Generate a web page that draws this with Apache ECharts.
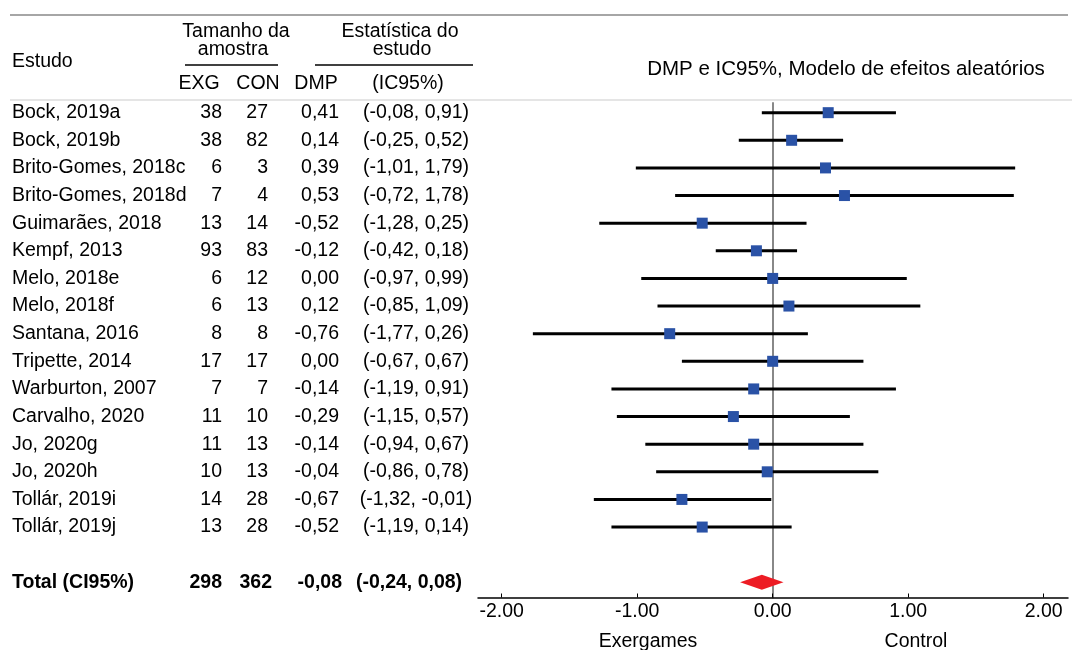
<!DOCTYPE html>
<html>

<head>
    <meta charset="utf-8" />
    <script src="https://cdn.jsdelivr.net/npm/echarts@6/dist/echarts.min.js"></script>
    <style>
        body { margin: 0; background: #fff; }
    </style>
</head>

<body>
    <div id="main" style="width: 1072px;height:650px;"></div>
    <script type="text/javascript">
        // dados do forest plot
        const studies = ['Bock, 2019a', 'Bock, 2019b', 'Brito-Gomes, 2018c', 'Brito-Gomes, 2018d', 'Guimarães, 2018',
            'Kempf, 2013', 'Melo, 2018e', 'Melo, 2018f', 'Santana, 2016', 'Tripette, 2014', 'Warburton, 2007',
            'Carvalho, 2020', 'Jo, 2020g', 'Jo, 2020h', 'Tollár, 2019i', 'Tollár, 2019j'];
        const exg = [38, 38, 6, 7, 13, 93, 6, 6, 8, 17, 7, 11, 11, 10, 14, 13];
        const con = [27, 82, 3, 4, 14, 83, 12, 13, 8, 17, 7, 10, 13, 13, 28, 28];
        const dmp = [0.41, 0.14, 0.39, 0.53, -0.52, -0.12, 0.00, 0.12, -0.76, 0.00, -0.14, -0.29, -0.14, -0.04, -0.67, -0.52];
        const lower = [-0.08, -0.25, -1.01, -0.72, -1.28, -0.42, -0.97, -0.85, -1.77, -0.67, -1.19, -1.15, -0.94, -0.86, -1.32, -1.19];
        const upper = [0.91, 0.52, 1.79, 1.78, 0.25, 0.18, 0.99, 1.09, 0.26, 0.67, 0.91, 0.57, 0.67, 0.78, -0.01, 0.14];

        const totalLabel = 'Total (CI95%)';
        const totalExg = 298;
        const totalCon = 362;
        const totalDmp = -0.08;
        const totalLower = -0.24;
        const totalUpper = 0.08;

        const xTicks = [-2, -1, 0, 1, 2];

        const totalRow = studies.length + 1; // linha em branco antes do total
        const FONT = '"Liberation Sans", Arial, Helvetica, sans-serif';
        const FS = 19.5;

        const fmt = v => v.toFixed(2).replace('.', ',');

        function txt(text, x, y, align, bold, size) {
            return {
                type: 'text',
                x: x,
                y: y,
                style: {
                    text: text,
                    fill: '#000',
                    font: (bold ? 'bold ' : '') + (size || FS) + 'px ' + FONT,
                    align: align,
                    textAlign: align,
                    verticalAlign: 'middle',
                    textVerticalAlign: 'middle'
                }
            };
        }

        function hline(x1, x2, y, color, w) {
            return {
                type: 'line',
                shape: { x1: x1, y1: y, x2: x2, y2: y },
                style: { stroke: color, lineWidth: w }
            };
        }

        const myChart = echarts.init(document.getElementById('main'), null, {
            renderer: 'canvas'
        });

        const option = {
            animation: false,
            backgroundColor: '#fff',
            grid: {
                left: 478,
                right: 4,
                top: 103,
                bottom: 52.5,
                containLabel: false,
                outerBoundsMode: 'none'
            },
            xAxis: {
                type: 'value',
                min: -2.175,
                max: 2.18,
                axisLine: { onZero: false, lineStyle: { color: '#000', width: 1.5 } },
                axisTick: { customValues: xTicks, inside: true, length: 4, lineStyle: { color: '#000', width: 1 } },
                axisLabel: {
                    customValues: xTicks,
                    formatter: v => v.toFixed(2),
                    color: '#000',
                    fontSize: FS,
                    fontFamily: FONT,
                    margin: 4
                },
                splitLine: { show: false }
            },
            yAxis: {
                type: 'value',
                inverse: true,
                min: -0.35,
                max: 17.55,
                axisLine: { show: true, onZero: true, lineStyle: { color: '#888', width: 2 } },
                axisTick: { show: false },
                axisLabel: { show: false },
                splitLine: { show: false }
            },
            graphic: [
                hline(10, 1068, 15, '#888', 1.5),
                hline(10, 1072, 100, '#ddd', 1.5),
                txt('Estudo', 12, 62, 'left'),
                txt('Tamanho da', 236, 32, 'center'),
                txt('amostra', 233, 50, 'center'),
                hline(185, 278, 65, '#000', 1.5),
                txt('Estatística do', 400, 32, 'center'),
                txt('estudo', 402, 50, 'center'),
                hline(315, 473, 65, '#000', 1.5),
                txt('EXG', 199, 84, 'center'),
                txt('CON', 258, 84, 'center'),
                txt('DMP', 316, 84, 'center'),
                txt('(IC95%)', 408, 84, 'center'),
                txt('DMP e IC95%, Modelo de efeitos aleatórios', 846, 69, 'center', false, 20.5),
                txt('Exergames', 648, 642, 'center'),
                txt('Control', 916, 642, 'center')
            ],
            series: [
                {
                    // tabela à esquerda
                    type: 'custom',
                    data: studies.map((s, i) => [0, i]),
                    encode: { x: 0, y: 1 },
                    renderItem: function (params, api) {
                        const i = params.dataIndex;
                        const y = api.coord([0, api.value(1)])[1];
                        return {
                            type: 'group',
                            children: [
                                txt(studies[i], 12, y, 'left'),
                                txt(String(exg[i]), 222, y, 'right'),
                                txt(String(con[i]), 268, y, 'right'),
                                txt(fmt(dmp[i]), 339, y, 'right'),
                                txt('(' + fmt(lower[i]) + ', ' + fmt(upper[i]) + ')', 416, y, 'center')
                            ]
                        };
                    }
                },
                {
                    // linha do total
                    type: 'custom',
                    data: [[0, totalRow]],
                    encode: { x: 0, y: 1 },
                    renderItem: function (params, api) {
                        const y = api.coord([0, api.value(1)])[1];
                        return {
                            type: 'group',
                            children: [
                                txt(totalLabel, 12, y, 'left', true),
                                txt(String(totalExg), 222, y, 'right', true),
                                txt(String(totalCon), 272, y, 'right', true),
                                txt(fmt(totalDmp), 342, y, 'right', true),
                                txt('(' + fmt(totalLower) + ', ' + fmt(totalUpper) + ')', 409, y, 'center', true)
                            ]
                        };
                    }
                },
                {
                    // IC e DMP de cada estudo
                    type: 'custom',
                    data: studies.map((s, i) => [lower[i], upper[i], dmp[i], i]),
                    encode: { x: [0, 1, 2], y: 3 },
                    renderItem: function (params, api) {
                        const y = api.coord([0, api.value(3)])[1];
                        const x1 = api.coord([api.value(0), 0])[0];
                        const x2 = api.coord([api.value(1), 0])[0];
                        const xm = api.coord([api.value(2), 0])[0];
                        return {
                            type: 'group',
                            children: [
                                { type: 'line', shape: { x1: x1, y1: y, x2: x2, y2: y }, style: { stroke: '#000', lineWidth: 3 } },
                                { type: 'rect', shape: { x: xm - 5.5, y: y - 5.5, width: 11, height: 11 }, style: { fill: '#2a52a6' } }
                            ]
                        };
                    }
                },
                {
                    // diamante do total
                    type: 'custom',
                    data: [[totalLower, totalUpper, totalDmp, totalRow]],
                    encode: { x: [0, 1, 2], y: 3 },
                    renderItem: function (params, api) {
                        const y = api.coord([0, api.value(3)])[1];
                        const x1 = api.coord([api.value(0), 0])[0];
                        const x2 = api.coord([api.value(1), 0])[0];
                        const xm = api.coord([api.value(2), 0])[0];
                        return {
                            type: 'polygon',
                            shape: { points: [[x1, y], [xm, y - 7.5], [x2, y], [xm, y + 7.5]] },
                            style: { fill: '#ed1c24' }
                        };
                    }
                }
            ]
        };

        myChart.setOption(option);

        window.addEventListener('resize', myChart.resize);
    </script>
</body>

</html>
